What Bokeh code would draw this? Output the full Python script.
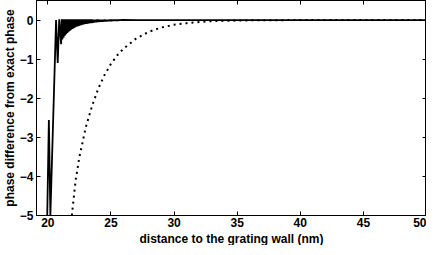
from bokeh.plotting import figure
from bokeh.models import LinearAxis, Range1d, FixedTicker, CustomJSTickFormatter, Title
from bokeh.embed import file_html
from bokeh.resources import INLINE

# solid curve near the wall (large excursions)
head_x = [19.95, 20.08, 20.2, 20.65, 20.78, 20.9]
head_y = [-5.0, -2.56, -5.0, 0.0, -1.1, 0.02]

trough_x = [21.05, 21.15, 21.25, 21.35, 21.45, 21.55, 21.65, 21.75, 21.85, 21.95,
            22.05, 22.15, 22.25, 22.35, 22.45, 22.55, 22.65, 22.75, 22.85, 22.95,
            23.05, 23.15, 23.25, 23.35, 23.45, 23.55, 23.65, 23.75, 23.85, 23.95,
            24.05, 24.15, 24.25, 24.35, 24.45, 24.55, 24.65, 24.75, 24.85, 24.95,
            25.05, 25.15, 25.25, 25.35, 25.45, 25.55, 25.65, 25.75, 25.85, 25.95]
trough_y = [-0.62, -0.5, -0.45, -0.4, -0.36, -0.33, -0.3, -0.27, -0.25, -0.23,
            -0.21, -0.19, -0.17, -0.16, -0.15, -0.14, -0.13, -0.12, -0.11, -0.1,
            -0.095, -0.09, -0.085, -0.08, -0.075, -0.07, -0.065, -0.06, -0.055, -0.05,
            -0.048, -0.045, -0.042, -0.04, -0.038, -0.035, -0.032, -0.03, -0.028, -0.025,
            -0.023, -0.02, -0.018, -0.016, -0.014, -0.012, -0.01, -0.008, -0.006, -0.005]
crest_x = [21.1, 21.2, 21.3, 21.4, 21.5, 21.6, 21.7, 21.8, 21.9, 22.0,
           22.1, 22.2, 22.3, 22.4, 22.5, 22.6, 22.7, 22.8, 22.9, 23.0,
           23.1, 23.2, 23.3, 23.4, 23.5, 23.6, 23.7, 23.8, 23.9, 24.0,
           24.1, 24.2, 24.3, 24.4, 24.5, 24.6, 24.7, 24.8, 24.9, 25.0,
           25.1, 25.2, 25.3, 25.4, 25.5, 25.6, 25.7, 25.8, 25.9, 26.0]
crest_y = [0.02, 0.02, 0.02, 0.02, 0.02, 0.02, 0.02, 0.02, 0.02, 0.02,
           0.018, 0.018, 0.018, 0.018, 0.018, 0.016, 0.016, 0.016, 0.016, 0.016,
           0.014, 0.014, 0.014, 0.014, 0.014, 0.012, 0.012, 0.012, 0.012, 0.012,
           0.01, 0.01, 0.01, 0.01, 0.01, 0.008, 0.008, 0.008, 0.008, 0.008,
           0.006, 0.006, 0.006, 0.006, 0.006, 0.005, 0.005, 0.005, 0.005, 0.005]
tail_x = [27.0, 30.0, 35.0, 40.0, 45.0, 50.0]
tail_y = [0.0, 0.0, 0.0, 0.0, 0.0, 0.0]

# dotted curve
dot_x = [21.9, 22.2, 22.5, 23.0, 23.5, 24.0, 24.5, 25.0, 25.5, 26.0, 27.0,
         28.0, 29.0, 30.0, 31.0, 32.0, 33.0, 34.0, 35.0, 36.0, 38.0, 40.0,
         45.0, 50.0]
dot_y = [-5.0, -4.1, -3.5, -2.75, -2.2, -1.75, -1.4, -1.12, -0.9, -0.73, -0.47,
         -0.3, -0.19, -0.12, -0.08, -0.05, -0.03, -0.02, -0.013, -0.008, -0.003,
         -0.001, 0.0, 0.0]

x_ticks = [20, 25, 30, 35, 40, 45, 50]
y_ticks = [-5, -4, -3, -2, -1, 0]
x_label = "distance to the grating wall (nm)"
y_label = "phase difference from exact phase"

solid_x = list(head_x)
solid_y = list(head_y)
for tx, ty, cx, cy in zip(trough_x, trough_y, crest_x, crest_y):
    solid_x += [tx, cx]
    solid_y += [ty, cy]
solid_x += tail_x
solid_y += tail_y

p = figure(width=426, height=245, output_backend="svg", toolbar_location=None,
           x_range=Range1d(19.1, 50), y_range=Range1d(-5, 0.5),
           min_border_left=0, min_border_right=0, min_border_top=0,
           min_border_bottom=0)

p.line(dot_x, dot_y, line_color="black", line_width=2, line_dash="2 4")
p.line(solid_x, solid_y, line_color="black", line_width=1.8)

p.xgrid.visible = False
p.ygrid.visible = False
p.outline_line_color = "black"
p.outline_line_width = 1
p.background_fill_color = "white"
p.border_fill_color = "white"

font = "Liberation Sans"
for ax in [p.xaxis[0], p.yaxis[0]]:
    ax.major_tick_in = 4
    ax.major_tick_out = 0
    ax.minor_tick_line_color = None
    ax.axis_line_color = "black"
    ax.major_label_text_font = font
    ax.major_label_text_font_style = "bold"
    ax.major_label_text_font_size = "12px"
    ax.major_label_text_color = "black"

p.xaxis[0].ticker = FixedTicker(ticks=x_ticks)
p.yaxis[0].ticker = FixedTicker(ticks=y_ticks)
p.xaxis[0].major_label_standoff = 2
p.yaxis[0].major_label_standoff = 3

xt = Title(text=x_label, align="center", text_font=font, text_font_style="bold",
           text_font_size="12px", text_color="black", standoff=0, offset=0)
yt = Title(text=y_label, align="center", text_font=font, text_font_style="bold",
           text_font_size="12px", text_color="black", standoff=0, offset=0)
p.add_layout(xt, "below")
p.add_layout(yt, "left")

blank = CustomJSTickFormatter(code="return ''")
top = LinearAxis(ticker=FixedTicker(ticks=x_ticks), formatter=blank,
                 major_label_text_font_size="1px", major_label_standoff=0,
                 major_tick_in=4, major_tick_out=0, minor_tick_line_color=None)
right = LinearAxis(ticker=FixedTicker(ticks=y_ticks), formatter=blank,
                   major_label_text_font_size="1px", major_label_standoff=0,
                   major_tick_in=4, major_tick_out=0, minor_tick_line_color=None)
p.add_layout(top, "above")
p.add_layout(right, "right")

open("out.html", "w").write(file_html(p, INLINE))
